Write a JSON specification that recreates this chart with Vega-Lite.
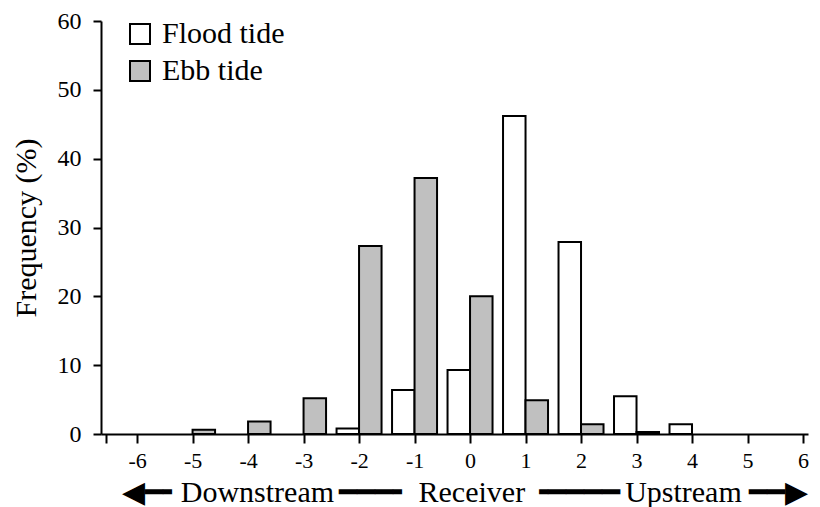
{
  "$schema": "https://vega.github.io/schema/vega-lite/v6.json",
  "width": 707,
  "height": 413,
  "autosize": {"type": "none"},
  "padding": {"left": 101, "top": 21, "right": 12, "bottom": 73},
  "background": "white",
  "config": {
    "view": {"stroke": null},
    "font": "Liberation Serif",
    "axis": {
      "grid": false,
      "domainColor": "black",
      "domainWidth": 2,
      "tickColor": "black",
      "tickWidth": 2,
      "labelColor": "black",
      "titleColor": "black",
      "labelFont": "Liberation Serif",
      "titleFont": "Liberation Serif",
      "titleFontWeight": "normal"
    },
    "legend": {
      "labelFont": "Liberation Serif",
      "labelColor": "black"
    }
  },
  "data": {
    "values": [
      {"bin": -2, "tide": "Flood tide", "freq": 0.8},
      {"bin": -1, "tide": "Flood tide", "freq": 6.4},
      {"bin": 0, "tide": "Flood tide", "freq": 9.3},
      {"bin": 1, "tide": "Flood tide", "freq": 46.2},
      {"bin": 2, "tide": "Flood tide", "freq": 27.9},
      {"bin": 3, "tide": "Flood tide", "freq": 5.5},
      {"bin": 4, "tide": "Flood tide", "freq": 1.4},
      {"bin": -5, "tide": "Ebb tide", "freq": 0.6},
      {"bin": -4, "tide": "Ebb tide", "freq": 1.8},
      {"bin": -3, "tide": "Ebb tide", "freq": 5.2},
      {"bin": -2, "tide": "Ebb tide", "freq": 27.3},
      {"bin": -1, "tide": "Ebb tide", "freq": 37.2},
      {"bin": 0, "tide": "Ebb tide", "freq": 20.0},
      {"bin": 1, "tide": "Ebb tide", "freq": 4.9},
      {"bin": 2, "tide": "Ebb tide", "freq": 1.4},
      {"bin": 3, "tide": "Ebb tide", "freq": 0.3}
    ]
  },
  "encoding": {
    "x": {
      "field": "bin",
      "type": "quantitative",
      "scale": {"domain": [-6.56, 6], "nice": false, "zero": false},
      "axis": {
        "values": [-6.56, -6, -5, -4, -3, -2, -1, 0, 1, 2, 3, 4, 5, 6],
        "labelExpr": "datum.value < -6.1 ? '' : '' + datum.value",
        "tickSize": 9,
        "labelFontSize": 22,
        "labelBaseline": "alphabetic",
        "labelPadding": 24,
        "labelFlush": false,
        "labelOverlap": false,
        "title": "◀━╸Downstream\u2006━━━╸ Receiver\u2006╺━━━━\u2006Upstream ━━▶",
        "titleFontSize": 30,
        "titleBaseline": "alphabetic",
        "titleX": 363.5,
        "titleY": 67
      }
    },
    "y": {
      "field": "freq",
      "type": "quantitative",
      "scale": {"domain": [0, 60], "nice": false},
      "axis": {
        "values": [0, 10, 20, 30, 40, 50, 60],
        "tickSize": 8,
        "labelFontSize": 24,
        "labelPadding": 12,
        "title": "Frequency (%)",
        "titleFontSize": 30,
        "titleBaseline": "alphabetic",
        "titleX": -66
      }
    },
    "color": {
      "field": "tide",
      "type": "nominal",
      "scale": {"domain": ["Flood tide", "Ebb tide"], "range": ["white", "#c0c0c0"]},
      "legend": {
        "title": null,
        "orient": "none",
        "legendX": 24,
        "legendY": -2,
        "symbolType": "square",
        "symbolSize": 400,
        "symbolStrokeColor": "black",
        "symbolStrokeWidth": 2,
        "symbolOpacity": 1,
        "labelFontSize": 30,
        "labelOffset": 7,
        "rowPadding": 7,
        "padding": 0
      }
    }
  },
  "layer": [
    {
      "transform": [{"filter": "datum.tide === 'Flood tide'"}],
      "mark": {"type": "bar", "width": 22.5, "xOffset": -11.25, "stroke": "black", "strokeWidth": 2, "opacity": 1}
    },
    {
      "transform": [{"filter": "datum.tide === 'Ebb tide'"}],
      "mark": {"type": "bar", "width": 22.5, "xOffset": 11.25, "stroke": "black", "strokeWidth": 2, "opacity": 1}
    }
  ]
}
